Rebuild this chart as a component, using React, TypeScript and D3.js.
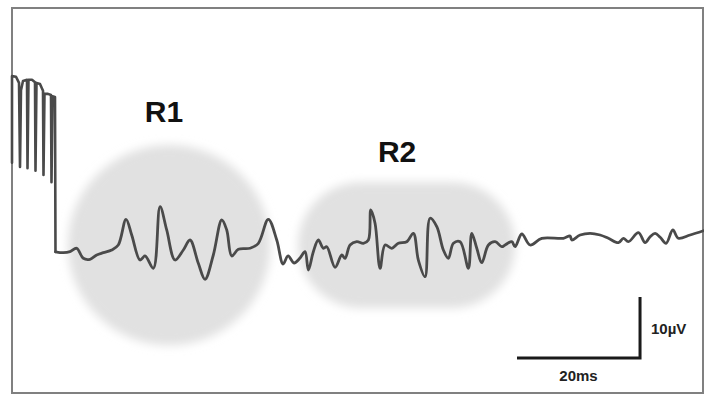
import React from "react";
import * as d3 from "d3";

// Recorded trace: time (ms) and amplitude (µV)
const timeMs = [
  0, 0, 0.65, 1.14, 1.3, 1.46, 1.79, 2.44, 2.52, 2.68, 3.25, 3.74, 3.82, 3.98, 4.55, 5.04, 5.12, 5.28, 5.85, 6.34, 6.42, 6.59, 6.99, 7.07,
  8.34, 9.43, 10.52, 11.59, 12.68, 13.77, 14.85, 16.21, 17.28, 18.54, 19.46, 20.81, 21.63, 22.98, 24.07, 25.15, 26.5, 27.85, 28.94,
  30.29, 31.38, 32.73, 34.1, 34.91, 35.72, 36.8, 38.7, 40.05, 41.67, 43.04, 44.07, 44.88, 45.85, 46.83, 47.64, 48.18, 48.99, 49.8,
  50.62, 51.17, 52.52, 53.61, 54.15, 54.96, 56.05, 57.12, 57.94, 58.33, 59.02, 59.84, 60.65, 61.74, 62.81, 64.18, 65.25, 66.06,
  67.15, 67.97, 69.06, 70.13, 70.94, 71.76, 72.85, 74.2, 74.75, 75.56, 76.37, 77.45, 78.54, 79.63, 80.16, 81.25, 81.79, 82.88,
  84.23, 86.13, 89.64, 90.73, 91.0, 92.36, 93.98, 95.61, 96.96, 98.59, 99.4, 100.21, 101.84, 102.93, 103.74, 104.55, 105.37,
  106.34, 107.43, 108.34, 110.24, 112.4,
];
const voltageUv = [
  14.3, 28.5, 28.4, 27.4, 13.6, 26.2, 27.7, 27.9, 13.4, 27.9, 27.9, 27.5, 13.0, 27.4, 27.2, 26.1, 12.3, 25.6, 25.6, 25.4, 11.1, 25.2, 25.1, -0.3,
  -0.44, -0.28, 0.28, -1.36, -1.52, -0.82, -0.44, 0, 0.82, 5.03, 2.46, -1.64, -0.98, -3.0, 7.1, 3.28, -1.64, 0, 1.64,
  -2.18, -4.8, -0.82, 4.92, 3.28, -0.98, 0.11, 0.28, 1.1, 5.03, 1.64, -2.3, -0.98, -2.13, -1.31, -0.28, -3.28, -0.28, 1.64,
  0.28, 0.54, -2.84, -0.82, -1.36, 0.82, 1.36, 1.1, 1.64, 6.56, 4.38, -3.0, 0.82, 0.28, 1.1, 1.36, 2.74, -1.64,
  -4.38, 5.2, 3.82, 0, -1.36, 1.1, 1.36, -3.0, 2.74, 0.28, -2.08, 0.82, 1.36, 0.54, 0.82, 1.36, 0.54, 2.62,
  0.82, 1.92, 1.92, 2.3, 1.64, 2.46, 2.74, 2.46, 1.92, 1.2, 1.92, 1.36, 2.84, 1.2, 2.18, 2.74, 2.08,
  1.1, 3.28, 1.92, 2.46, 3.16,
];
// number of leading samples that belong to the stimulus artifact
const artifactSamples = 24;

// Response regions (ms / µV extents)
const regionLabels = ["R1", "R2"];
const regionStartMs = [9.1, 46.5];
const regionEndMs = [42.0, 81.8];
const regionTopUv = [17.2, 11.1];
const regionBottomUv = [-15.6, -9.5];
const regionLabelMs = [24.7, 62.6];
const regionLabelUv = [21.0, 14.4];

// Scale bar
const scaleBarMs = 20;
const scaleBarUv = 10;
const scaleBarEndMs = 102.1;
const scaleBarBottomUv = -17.7;
const scaleBarLabels = ["20ms", "10µV"];

export default function App() {
  const W = 704;
  const H = 396;
  const x = d3.scaleLinear().domain([0, 112.5]).range([12, 704]);
  const y = d3.scaleLinear().domain([0, 10]).range([250, 189]);

  const pts: [number, number][] = timeMs.map((t, i) => [t, voltageUv[i]]);
  const artifact = pts.slice(0, artifactSamples);
  const response = pts.slice(artifactSamples - 1);
  const lineLin = d3
    .line<[number, number]>()
    .x((d) => x(d[0]))
    .y((d) => y(d[1]))
    .curve(d3.curveLinear);
  const lineSmooth = d3
    .line<[number, number]>()
    .x((d) => x(d[0]))
    .y((d) => y(d[1]))
    .curve(d3.curveCatmullRom.alpha(0.5));

  const sbX1 = x(scaleBarEndMs - scaleBarMs);
  const sbX2 = x(scaleBarEndMs);
  const sbY1 = y(scaleBarBottomUv);
  const sbY2 = y(scaleBarBottomUv + scaleBarUv);

  return (
    <svg
      width={W}
      height={H}
      style={{ position: "absolute", left: 0, top: 0, background: "#fff" }}
      fontFamily="'Liberation Sans', Arial, sans-serif"
    >
      <defs>
        <filter id="blur" x="-30%" y="-30%" width="160%" height="160%">
          <feGaussianBlur stdDeviation="5" />
        </filter>
      </defs>
      <rect x={0} y={0} width={W} height={H} fill="#fff" />
      {regionLabels.map((r, i) => {
        const x0 = x(regionStartMs[i]);
        const x1 = x(regionEndMs[i]);
        const y0 = y(regionTopUv[i]);
        const y1 = y(regionBottomUv[i]);
        const h = y1 - y0;
        const w = x1 - x0;
        const rr = Math.min(w, h) / 2;
        return (
          <rect
            key={r}
            x={x0}
            y={y0}
            width={w}
            height={h}
            rx={rr}
            ry={rr}
            fill="#e1e1e1"
            filter="url(#blur)"
          />
        );
      })}
      <rect x={12} y={8} width={691} height={385} fill="none" stroke="#808080" strokeWidth={2} />
      <path
        d={lineLin(artifact) || ""}
        fill="none"
        stroke="#4a4a4a"
        strokeWidth={2.6}
        strokeLinejoin="round"
        strokeLinecap="round"
      />
      <path
        d={lineSmooth(response) || ""}
        fill="none"
        stroke="#4a4a4a"
        strokeWidth={2.8}
        strokeLinejoin="round"
        strokeLinecap="round"
      />
      {regionLabels.map((r, i) => (
        <text
          key={r}
          x={x(regionLabelMs[i])}
          y={y(regionLabelUv[i])}
          textAnchor="middle"
          fontSize={30}
          fontWeight="bold"
          fill="#111"
        >
          {r}
        </text>
      ))}
      <path
        d={`M${sbX1},${sbY1}H${sbX2}V${sbY2}`}
        fill="none"
        stroke="#1a1a1a"
        strokeWidth={3}
      />
      <text x={(sbX1 + sbX2) / 2} y={381} textAnchor="middle" fontSize={15} fontWeight="bold" fill="#222">
        {scaleBarLabels[0]}
      </text>
      <text x={651} y={334} fontSize={15} fontWeight="bold" fill="#222">
        {scaleBarLabels[1]}
      </text>
    </svg>
  );
}
